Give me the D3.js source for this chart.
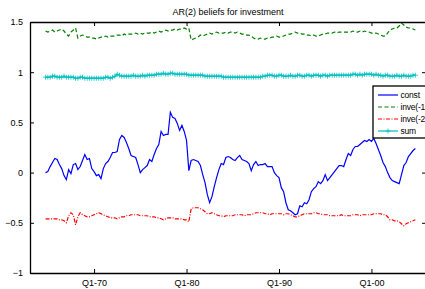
<!DOCTYPE html>
<html lang="en">
<head>
<meta charset="utf-8">
<script src="https://d3js.org/d3.v7.min.js"></script>
<title>AR(2) beliefs for investment</title>
<style>
  body { margin: 0; background: #fff; }
  svg { display: block; font-family: "Liberation Sans", Arial, sans-serif; }
  .axis path, .axis line { stroke: #000; fill: none; }
  .axis text { font-size: 9px; fill: #000; }
</style>
</head>
<body>
<svg id="chart" width="425" height="289"></svg>
<script>
// quarterly data, first obs 1964Q4
var startYear = 1964.75;
var seriesNames = ["const", "inve(-1)", "inve(-2)", "sum"];
var xTicks = [1970, 1980, 1990, 2000];
var xTickLabels = ["Q1-70", "Q1-80", "Q1-90", "Q1-00"];
var yTicks = [-1, -0.5, 0, 0.5, 1, 1.5];

var constVals = [
  0.00, 0.01, 0.06, 0.10, 0.14, 0.13, 0.08, 0.04, -0.03, -0.07,
  0.03, -0.01, 0.08, 0.09, 0.03, 0.06, 0.12, 0.18, 0.13, 0.14,
  0.04, 0.01, -0.03, -0.02, -0.06, 0.04, 0.09, 0.11, 0.15, 0.20,
  0.20, 0.21, 0.33, 0.37, 0.35, 0.30, 0.24, 0.17, 0.16, 0.15,
  0.08, 0.00, 0.03, 0.05, 0.07, 0.13, 0.11, 0.18, 0.24, 0.28,
  0.41, 0.37, 0.38, 0.38, 0.60, 0.55, 0.54, 0.49, 0.42, 0.47,
  0.41, 0.32, 0.02, 0.12, 0.13, 0.12, 0.11, 0.07, -0.02, -0.10,
  -0.22, -0.30, -0.24, -0.14, -0.05, 0.03, 0.09, 0.08, 0.15, 0.16,
  0.15, 0.13, 0.12, 0.15, 0.17, 0.13, 0.12, 0.11, 0.09, 0.02,
  0.08, 0.11, 0.07, 0.08, 0.08, 0.09, 0.06, 0.06, 0.06, 0.00,
  -0.03, -0.05, -0.15, -0.19, -0.30, -0.37, -0.38, -0.40, -0.42, -0.41,
  -0.33, -0.34, -0.30, -0.31, -0.27, -0.19, -0.16, -0.14, -0.09, -0.11,
  -0.08, -0.02, -0.08, -0.05, -0.02, 0.01, 0.04, 0.07, 0.07, 0.06,
  0.13, 0.19, 0.17, 0.23, 0.26, 0.26, 0.28, 0.30, 0.32, 0.31,
  0.33, 0.31, 0.34, 0.29, 0.23, 0.17, 0.10, 0.06, 0.00, -0.05,
  -0.08, -0.09, -0.10, -0.11, -0.02, 0.07, 0.10, 0.16, 0.19, 0.22,
  0.24
];

var inve1Vals = [
  1.41, 1.40, 1.41, 1.42, 1.40, 1.41, 1.42, 1.43, 1.41, 1.38,
  1.36, 1.40, 1.42, 1.44, 1.34, 1.36, 1.37, 1.36, 1.35, 1.35,
  1.34, 1.34, 1.33, 1.34, 1.35, 1.35, 1.36, 1.35, 1.36, 1.36,
  1.36, 1.37, 1.37, 1.36, 1.38, 1.37, 1.38, 1.38, 1.38, 1.39,
  1.38, 1.39, 1.38, 1.39, 1.39, 1.39, 1.40, 1.39, 1.40, 1.41,
  1.40, 1.41, 1.42, 1.41, 1.42, 1.42, 1.43, 1.42, 1.43, 1.43,
  1.44, 1.43, 1.44, 1.32, 1.33, 1.34, 1.35, 1.37, 1.36, 1.37,
  1.38, 1.39, 1.38, 1.39, 1.40, 1.39, 1.39, 1.39, 1.40, 1.39,
  1.40, 1.40, 1.39, 1.40, 1.39, 1.38, 1.38, 1.37, 1.37, 1.36,
  1.34, 1.33, 1.33, 1.34, 1.33, 1.33, 1.34, 1.34, 1.35, 1.35,
  1.36, 1.35, 1.35, 1.36, 1.37, 1.38, 1.38, 1.39, 1.40, 1.39,
  1.39, 1.38, 1.38, 1.37, 1.37, 1.36, 1.37, 1.36, 1.36, 1.37,
  1.38, 1.38, 1.39, 1.39, 1.39, 1.40, 1.39, 1.40, 1.40, 1.40,
  1.40, 1.40, 1.40, 1.41, 1.40, 1.40, 1.41, 1.40, 1.41, 1.40,
  1.40, 1.39, 1.39, 1.39, 1.38, 1.37, 1.36, 1.36, 1.39, 1.42,
  1.43, 1.44, 1.44, 1.46, 1.49, 1.47, 1.45, 1.44, 1.44, 1.43,
  1.42
];

var inve2Vals = [
  -0.46, -0.46, -0.46, -0.46, -0.46, -0.46, -0.47, -0.47, -0.48, -0.50,
  -0.43, -0.40, -0.42, -0.52, -0.44, -0.40, -0.42, -0.43, -0.44, -0.44,
  -0.43, -0.42, -0.41, -0.40, -0.41, -0.42, -0.43, -0.44, -0.45, -0.45,
  -0.45, -0.46, -0.45, -0.44, -0.44, -0.43, -0.43, -0.42, -0.42, -0.42,
  -0.42, -0.43, -0.43, -0.43, -0.43, -0.44, -0.44, -0.44, -0.45, -0.45,
  -0.46, -0.47, -0.46, -0.45, -0.45, -0.45, -0.46, -0.46, -0.46, -0.46,
  -0.47, -0.47, -0.49, -0.36, -0.35, -0.35, -0.35, -0.36, -0.37, -0.39,
  -0.41, -0.41, -0.40, -0.41, -0.42, -0.43, -0.43, -0.44, -0.43, -0.43,
  -0.43, -0.43, -0.42, -0.42, -0.42, -0.42, -0.43, -0.42, -0.42, -0.42,
  -0.41, -0.40, -0.40, -0.40, -0.40, -0.41, -0.41, -0.42, -0.41, -0.41,
  -0.41, -0.41, -0.41, -0.42, -0.41, -0.41, -0.42, -0.43, -0.44, -0.44,
  -0.43, -0.42, -0.41, -0.41, -0.41, -0.41, -0.40, -0.40, -0.41, -0.41,
  -0.42, -0.42, -0.42, -0.43, -0.43, -0.43, -0.43, -0.43, -0.42, -0.43,
  -0.43, -0.43, -0.43, -0.42, -0.42, -0.42, -0.43, -0.42, -0.42, -0.42,
  -0.42, -0.42, -0.41, -0.41, -0.41, -0.41, -0.42, -0.42, -0.44, -0.47,
  -0.47, -0.48, -0.48, -0.49, -0.51, -0.53, -0.51, -0.50, -0.49, -0.48,
  -0.47
];

var sumVals = [
  0.95, 0.95, 0.95, 0.96, 0.96, 0.95, 0.95, 0.95, 0.96, 0.95,
  0.95, 0.95, 0.95, 0.94, 0.94, 0.95, 0.95, 0.94, 0.94, 0.94,
  0.94, 0.94, 0.94, 0.94, 0.94, 0.94, 0.95, 0.95, 0.94, 0.95,
  0.96, 0.98, 0.97, 0.96, 0.96, 0.96, 0.96, 0.96, 0.97, 0.96,
  0.96, 0.96, 0.97, 0.96, 0.97, 0.97, 0.97, 0.97, 0.98, 0.98,
  0.98, 0.99, 0.98, 0.98, 0.99, 0.99, 0.98, 0.98, 0.98, 0.98,
  0.98, 0.98, 0.97, 0.97, 0.97, 0.97, 0.97, 0.97, 0.97, 0.96,
  0.96, 0.96, 0.96, 0.96, 0.96, 0.96, 0.96, 0.95, 0.95, 0.95,
  0.95, 0.95, 0.95, 0.95, 0.95, 0.95, 0.95, 0.95, 0.95, 0.95,
  0.95, 0.95, 0.95, 0.95, 0.96, 0.96, 0.97, 0.97, 0.97, 0.96,
  0.96, 0.97, 0.97, 0.96, 0.96, 0.96, 0.97, 0.96, 0.96, 0.97,
  0.97, 0.96, 0.96, 0.97, 0.97, 0.96, 0.97, 0.97, 0.97, 0.96,
  0.97, 0.97, 0.96, 0.97, 0.97, 0.97, 0.97, 0.97, 0.97, 0.97,
  0.97, 0.97, 0.97, 0.98, 0.98, 0.97, 0.98, 0.97, 0.98, 0.98,
  0.98, 0.98, 0.97, 0.98, 0.97, 0.97, 0.96, 0.97, 0.97, 0.96,
  0.96, 0.96, 0.97, 0.96, 0.96, 0.97, 0.96, 0.96, 0.96, 0.97,
  0.97
];

var colors = ["#0000ff", "#008000", "#ff0000", "#00bfbf"];
var dashes = [null, "4,2.5", "4,1.5,1,1.5", null];

var plotLeft = 30, plotTop = 22, plotRight = 426, plotBottom = 273;

var svg = d3.select("#chart");

var x = d3.scaleLinear().domain([1963.07, 2005.9]).range([plotLeft, plotRight]);
var y = d3.scaleLinear().domain([-1, 1.5]).range([plotBottom, plotTop]);

function toPoints(vals) {
  return vals.map(function(v, i) { return { t: startYear + i / 4, v: v }; });
}
var allSeries = [constVals, inve1Vals, inve2Vals, sumVals].map(toPoints);

var line = d3.line()
  .x(function(d) { return x(d.t); })
  .y(function(d) { return y(d.v); });

// series
allSeries.forEach(function(s, k) {
  svg.append("path")
    .datum(s)
    .attr("d", line)
    .attr("fill", "none")
    .attr("stroke", colors[k])
    .attr("stroke-width", 1.2)
    .attr("stroke-dasharray", dashes[k]);
});

// + markers for the sum
svg.append("g").selectAll("path")
  .data(allSeries[3])
  .enter().append("path")
    .attr("d", function(d) {
      var cx = x(d.t), cy = y(d.v), r = 2.5;
      return "M" + (cx - r) + "," + cy + "H" + (cx + r) + "M" + cx + "," + (cy - r) + "V" + (cy + r);
    })
    .attr("stroke", colors[3])
    .attr("stroke-width", 0.8);

// axes box
svg.append("g")
  .attr("class", "axis")
  .attr("transform", "translate(0," + plotBottom + ")")
  .call(d3.axisBottom(x).tickValues(xTicks).tickSizeInner(-4).tickSizeOuter(0)
    .tickPadding(7).tickFormat(function(d, i) { return xTickLabels[i]; }));

svg.append("g")
  .attr("class", "axis")
  .attr("transform", "translate(0," + plotTop + ")")
  .call(d3.axisTop(x).tickValues(xTicks).tickSizeInner(-4).tickSizeOuter(0).tickFormat(""));

svg.append("g")
  .attr("class", "axis")
  .attr("transform", "translate(" + plotLeft + ",0)")
  .call(d3.axisLeft(y).tickValues(yTicks).tickSizeInner(-4).tickSizeOuter(0)
    .tickPadding(7).tickFormat(d3.format("")));

svg.append("g")
  .attr("class", "axis")
  .attr("transform", "translate(" + plotRight + ",0)")
  .call(d3.axisRight(y).tickValues(yTicks).tickSizeInner(-4).tickSizeOuter(0).tickFormat(""));

svg.selectAll(".axis .domain").attr("stroke-width", 1.3);

// title
svg.append("text")
  .attr("x", (plotLeft + plotRight) / 2)
  .attr("y", 15)
  .attr("text-anchor", "middle")
  .attr("font-size", "9px")
  .text("AR(2) beliefs for investment");

// legend (runs past the right edge, as in the original)
var lg = svg.append("g").attr("transform", "translate(373,86)");
lg.append("rect")
  .attr("width", 70).attr("height", 52)
  .attr("fill", "#fff").attr("stroke", "#000").attr("stroke-width", 1.3);

seriesNames.forEach(function(name, k) {
  var ly = 9 + k * 12;
  lg.append("line")
    .attr("x1", 5).attr("x2", 25).attr("y1", ly).attr("y2", ly)
    .attr("stroke", colors[k]).attr("stroke-width", 1.2)
    .attr("stroke-dasharray", dashes[k]);
  if (k === 3) {
    lg.append("path")
      .attr("d", "M12.5," + ly + "h5M15," + (ly - 2.5) + "v5")
      .attr("stroke", colors[k]).attr("stroke-width", 0.8);
  }
  lg.append("text")
    .attr("x", 27.5).attr("y", ly + 3)
    .attr("font-size", "8.5px")
    .attr("letter-spacing", "-0.2px")
    .text(name);
});
</script>
</body>
</html>
